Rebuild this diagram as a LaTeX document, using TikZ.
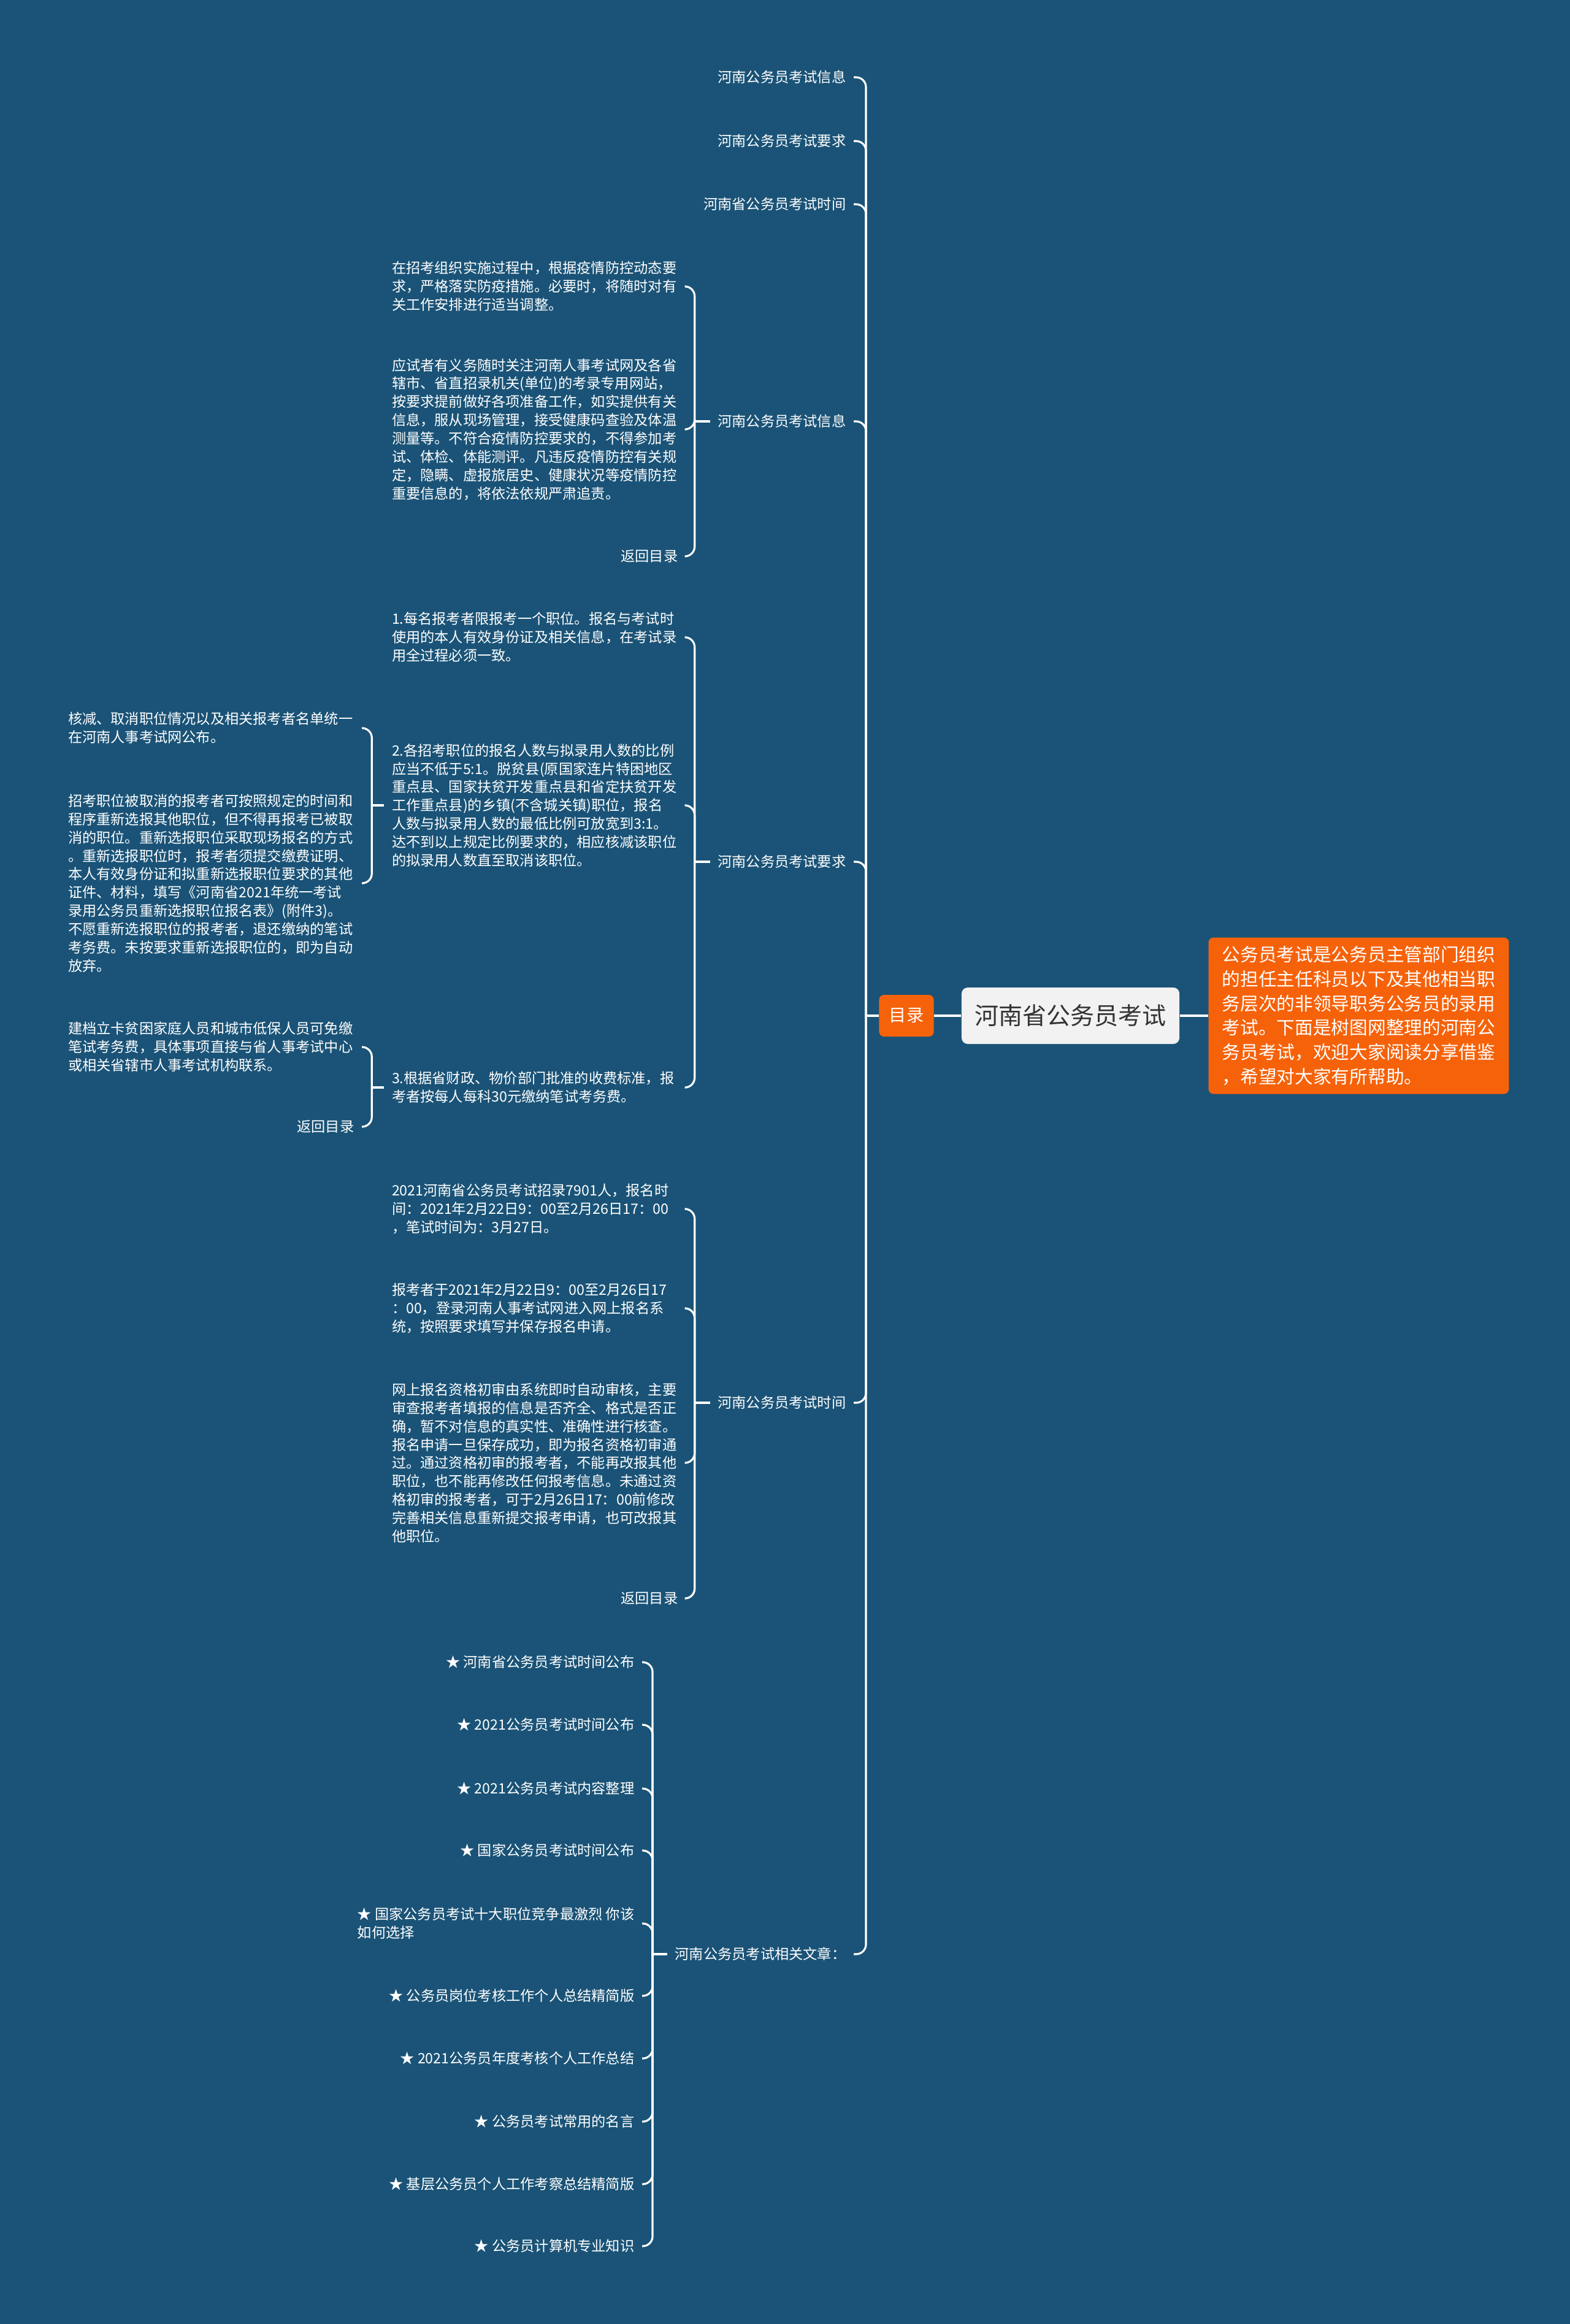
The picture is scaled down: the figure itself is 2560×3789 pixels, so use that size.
\documentclass[tikz,border=0pt]{standalone}
\usepackage{fontspec}
\setmainfont{Noto Sans CJK SC}
\usepackage{xcolor}
\usetikzlibrary{positioning}
\definecolor{bgblue}{RGB}{26,83,119}
\definecolor{mmorange}{RGB}{246,98,10}
\definecolor{rootgray}{RGB}{242,242,242}
\definecolor{roottext}{RGB}{51,51,51}

\begin{document}
\begin{tikzpicture}[
            x=0.01cm, y=-0.01cm,
            every node/.style={text=white, font=\fontsize{6.6}{8.5}\selectfont, inner xsep=0.12cm, inner ysep=0.05cm},
            item style/.style={anchor=east},
            block style/.style={anchor=east, align=left, text width=4.66cm},
            link style/.style={draw=white, line width=0.9pt, rounded corners=0.16cm}
        ]

        \fill[bgblue] (0,0) rectangle (2560,3789);
        \useasboundingbox (0,0) rectangle (2560,3789);

        \node[fill=mmorange, rounded corners=0.08cm, font=\fontsize{8}{10}\selectfont, minimum width=0.89cm, minimum height=0.68cm] (mulu) at (1478,1656) {目录};
        \node[fill=rootgray, text=roottext, rounded corners=0.1cm, font=\fontsize{11.1}{13}\selectfont, minimum width=3.55cm, minimum height=0.92cm, right=0.44cm of mulu] (root) {河南省公务员考试};
        \node[fill=mmorange, rounded corners=0.08cm, align=left, font=\fontsize{8.45}{11.3}\selectfont, inner xsep=0.22cm, inner ysep=0.14cm, right=0.46cm of root] (intro) {公务员考试是公务员主管部门组织\\的担任主任科员以下及其他相当职\\务层次的非领导职务公务员的录用\\考试。下面是树图网整理的河南公\\务员考试，欢迎大家阅读分享借鉴\\，希望对大家有所帮助。};
        \coordinate (s0) at (1412,1656);

        \node[item style] (t1) at (1392,126) {河南公务员考试信息};
        \node[item style] (t2) at (1392,230) {河南公务员考试要求};
        \node[item style] (t3) at (1392,333) {河南省公务员考试时间};
        \node[item style] (g4) at (1392,687) {河南公务员考试信息};
        \node[item style] (g5) at (1392,1405) {河南公务员考试要求};
        \node[item style] (g6) at (1392,2287) {河南公务员考试时间};
        \node[item style] (g7) at (1392,3186) {河南公务员考试相关文章：};
        \coordinate[left=0.25cm of g4.west] (s4);
        \coordinate[left=0.25cm of g5.west] (s5);
        \coordinate[left=0.25cm of g6.west] (s6);
        \coordinate[left=0.24cm of g7.west] (s7);

        \node[block style] (g4a) at (1118,467) {在招考组织实施过程中，根据疫情防控动态要\\求，严格落实防疫措施。必要时，将随时对有\\关工作安排进行适当调整。};
        \node[block style] (g4b) at (1118,700) {应试者有义务随时关注河南人事考试网及各省\\辖市、省直招录机关(单位)的考录专用网站，\\按要求提前做好各项准备工作，如实提供有关\\信息，服从现场管理，接受健康码查验及体温\\测量等。不符合疫情防控要求的，不得参加考\\试、体检、体能测评。凡违反疫情防控有关规\\定，隐瞒、虚报旅居史、健康状况等疫情防控\\重要信息的，将依法依规严肃追责。};
        \node[item style] (g4c) at (1118,907) {返回目录};

        \node[block style] (g5a) at (1118,1039) {1.每名报考者限报考一个职位。报名与考试时\\使用的本人有效身份证及相关信息，在考试录\\用全过程必须一致。};
        \node[block style] (g5b) at (1118,1313) {2.各招考职位的报名人数与拟录用人数的比例\\应当不低于5:1。脱贫县(原国家连片特困地区\\重点县、国家扶贫开发重点县和省定扶贫开发\\工作重点县)的乡镇(不含城关镇)职位，报名\\人数与拟录用人数的最低比例可放宽到3:1。\\达不到以上规定比例要求的，相应核减该职位\\的拟录用人数直至取消该职位。};
        \node[block style] (g5c) at (1118,1773) {3.根据省财政、物价部门批准的收费标准，报\\考者按每人每科30元缴纳笔试考务费。};
        \coordinate[left=0.2cm of g5b.west] (s5b);
        \coordinate[left=0.2cm of g5c.west] (s5c);

        \node[block style] (g5b1) at (590,1187) {核减、取消职位情况以及相关报考者名单统一\\在河南人事考试网公布。};
        \node[block style] (g5b2) at (590,1440) {招考职位被取消的报考者可按照规定的时间和\\程序重新选报其他职位，但不得再报考已被取\\消的职位。重新选报职位采取现场报名的方式\\。重新选报职位时，报考者须提交缴费证明、\\本人有效身份证和拟重新选报职位要求的其他\\证件、材料，填写《河南省2021年统一考试\\录用公务员重新选报职位报名表》(附件3)。\\不愿重新选报职位的报考者，退还缴纳的笔试\\考务费。未按要求重新选报职位的，即为自动\\放弃。};
        \node[block style] (g5c1) at (590,1707) {建档立卡贫困家庭人员和城市低保人员可免缴\\笔试考务费，具体事项直接与省人事考试中心\\或相关省辖市人事考试机构联系。};
        \node[item style] (g5c2) at (590,1837) {返回目录};

        \node[block style] (g6a) at (1118,1971) {2021河南省公务员考试招录7901人，报名时\\间：2021年2月22日9：00至2月26日17：00\\，笔试时间为：3月27日。};
        \node[block style] (g6b) at (1118,2133) {报考者于2021年2月22日9：00至2月26日17\\：00，登录河南人事考试网进入网上报名系\\统，按照要求填写并保存报名申请。};
        \node[block style] (g6c) at (1118,2385) {网上报名资格初审由系统即时自动审核，主要\\审查报考者填报的信息是否齐全、格式是否正\\确，暂不对信息的真实性、准确性进行核查。\\报名申请一旦保存成功，即为报名资格初审通\\过。通过资格初审的报考者，不能再改报其他\\职位，也不能再修改任何报考信息。未通过资\\格初审的报考者，可于2月26日17：00前修改\\完善相关信息重新提交报考申请，也可改报其\\他职位。};
        \node[item style] (g6d) at (1118,2606) {返回目录};

        \node[item style] (g7a) at (1047,2710) {★ 河南省公务员考试时间公布};
        \node[item style] (g7b) at (1047,2812) {★ 2021公务员考试时间公布};
        \node[item style] (g7c) at (1047,2916) {★ 2021公务员考试内容整理};
        \node[item style] (g7d) at (1047,3017) {★ 国家公务员考试时间公布};
        \node[item style, align=left] (g7e) at (1047,3136) {★ 国家公务员考试十大职位竞争最激烈 你该\\如何选择};
        \node[item style] (g7f) at (1047,3254) {★ 公务员岗位考核工作个人总结精简版};
        \node[item style] (g7g) at (1047,3356) {★ 2021公务员年度考核个人工作总结};
        \node[item style] (g7h) at (1047,3459) {★ 公务员考试常用的名言};
        \node[item style] (g7i) at (1047,3561) {★ 基层公务员个人工作考察总结精简版};
        \node[item style] (g7j) at (1047,3662) {★ 公务员计算机专业知识};

        \draw[link style] (root) -- (intro);
        \draw[link style] (mulu) -- (root);
        \draw[link style] (s0) -- (mulu.west);
        \foreach \n in {t1,t2,t3,g4,g5,g6,g7}
            \draw[link style] (\n.east) -| (s0);
        \draw[link style] (s4) -- (g4.west);
        \foreach \n in {g4a,g4b,g4c}
            \draw[link style] (\n.east) -| (s4);
        \draw[link style] (s5) -- (g5.west);
        \foreach \n in {g5a,g5b,g5c}
            \draw[link style] (\n.east) -| (s5);
        \draw[link style] (s5b) -- (g5b.west);
        \foreach \n in {g5b1,g5b2}
            \draw[link style] (\n.east) -| (s5b);
        \draw[link style] (s5c) -- (g5c.west);
        \foreach \n in {g5c1,g5c2}
            \draw[link style] (\n.east) -| (s5c);
        \draw[link style] (s6) -- (g6.west);
        \foreach \n in {g6a,g6b,g6c,g6d}
            \draw[link style] (\n.east) -| (s6);
        \draw[link style] (s7) -- (g7.west);
        \foreach \n in {g7a,g7b,g7c,g7d,g7e,g7f,g7g,g7h,g7i,g7j}
            \draw[link style] (\n.east) -| (s7);
        \end{tikzpicture}
\end{document}
